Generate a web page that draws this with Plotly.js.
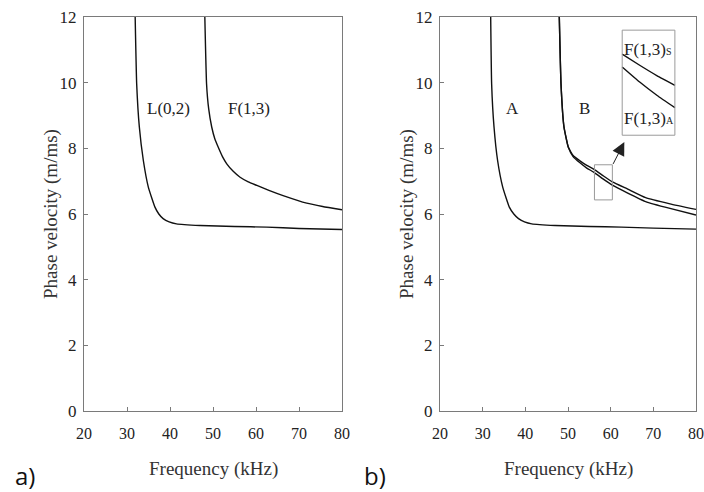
<!DOCTYPE html>
<html>
<head>
<meta charset="utf-8">
<script src="https://cdn.plot.ly/plotly-3.0.1.min.js"></script>
<style>html,body{margin:0;padding:0;background:#fff;}#chart{width:704px;height:492px;}</style>
</head>
<body>
<div id="chart"></div>
<script>
// ---- data ----
// panel a)
var freqL02 = [31.9, 32.25, 32.87, 33.8, 34.96, 36.5, 37.4, 38.4, 39.8, 41.5, 47, 55, 62.5, 70, 80];
var velL02  = [12, 9.97, 8.65, 7.63, 6.82, 6.21, 6.0, 5.86, 5.76, 5.70, 5.65, 5.62, 5.6, 5.56, 5.53];
var freqF13 = [48.1, 48.5, 49.0, 49.7, 50.4, 51.2, 52.2, 53.2, 54.7, 56.3, 58.2, 60.2, 63.0, 66.3, 71.8, 75.5, 80];
var velF13  = [12, 9.97, 9.2, 8.65, 8.3, 8.04, 7.75, 7.53, 7.3, 7.12, 6.98, 6.87, 6.72, 6.56, 6.33, 6.23, 6.13];
// panel b)
var freqA = [31.88, 32.1, 32.66, 33.5, 34.7, 36.25, 37.3, 38.4, 39.8, 41.5, 47, 55, 62.5, 70, 80];
var velA  = [12, 9.97, 8.65, 7.63, 6.82, 6.21, 6.0, 5.86, 5.76, 5.70, 5.65, 5.62, 5.6, 5.57, 5.54];
var freqBS = [47.96, 48.36, 49.06, 50.07, 51.2, 52.8, 54.4, 56.1, 58.2, 60.4, 64.0, 68.2, 73.9, 80];
var velBS  = [12, 9.97, 8.65, 8.04, 7.78, 7.62, 7.48, 7.36, 7.17, 6.98, 6.76, 6.50, 6.31, 6.14];
var freqBA = [47.96, 48.36, 49.06, 50.07, 51.2, 52.8, 54.4, 56.1, 58.2, 60.4, 64.0, 68.2, 73.9, 80];
var velBA  = [12, 9.97, 8.65, 8.03, 7.75, 7.56, 7.40, 7.27, 7.07, 6.88, 6.64, 6.38, 6.17, 5.97];
// magnified inset curves (drawn in panel b coordinates)
var insetFreq = [62.7, 66.8, 70.9, 75.05];
var insetS    = [10.87, 10.53, 10.21, 9.92];
var insetA    = [10.48, 10.02, 9.61, 9.24];
// zoom box and inset box
var zoomBoxF = [56.2, 60.4], zoomBoxV = [6.43, 7.50];
var insetBoxF = [62.7, 75.05], insetBoxV = [8.4, 11.6];
// ticks and titles
var xTicks = [20, 30, 40, 50, 60, 70, 80];
var yTicks = [0, 2, 4, 6, 8, 10, 12];
var xTitle = 'Frequency (kHz)';
var yTitle = 'Phase velocity (m/ms)';

var lineStyle = {color: '#111', width: 1.4, shape: 'spline', smoothing: 0.4};
function tr(x, y, xa, ya) {
  return {x: x, y: y, xaxis: xa, yaxis: ya, mode: 'lines', line: lineStyle, hoverinfo: 'skip', showlegend: false};
}
var traces = [
  tr(freqL02, velL02, 'x', 'y'),
  tr(freqF13, velF13, 'x', 'y'),
  tr(freqA, velA, 'x2', 'y2'),
  tr(freqBS, velBS, 'x2', 'y2'),
  tr(freqBA, velBA, 'x2', 'y2'),
  tr(insetFreq, insetS, 'x2', 'y2'),
  tr(insetFreq, insetA, 'x2', 'y2')
];

var serif = 'Liberation Serif';
function axCommon(size) {
  return {
    showline: true, mirror: true, linecolor: '#7a7a7a', linewidth: 1,
    ticks: 'inside', ticklen: 4, tickcolor: '#7a7a7a', tickwidth: 1,
    showgrid: false, zeroline: false, fixedrange: true,
    tickfont: {family: serif, size: size, color: '#222'}
  };
}
function xa(domain, anchor) {
  return Object.assign(axCommon(16), {
    domain: domain, range: [20, 80], tickmode: 'array', tickvals: xTicks, anchor: anchor,
    ticklabelstandoff: 8
  });
}
function ya(anchor) {
  return Object.assign(axCommon(17), {
    domain: [0.1646, 0.9654], range: [0, 12], tickmode: 'array', tickvals: yTicks, anchor: anchor,
    ticklabelstandoff: 3
  });
}

var titleFont = {family: serif, size: 19, color: '#333'};
var lblFont = {family: serif, size: 17, color: '#222'};
var panelFont = {family: 'Open Sans', size: 24, color: '#111'};
function paperNote(px, py, text, font, angle) {
  return {xref: 'paper', yref: 'paper', x: px / 704, y: (492 - py) / 492, xanchor: 'center', yanchor: 'middle',
          text: text, textangle: angle || 0, showarrow: false, font: font};
}
var annotations = [
  paperNote(213, 469, xTitle, titleFont),
  paperNote(568, 469, xTitle, titleFont),
  paperNote(51, 214, yTitle, titleFont, -90),
  paperNote(407, 214, yTitle, titleFont, -90),
  paperNote(25, 475, 'a)', panelFont),
  paperNote(375, 475, 'b)', panelFont),
  {xref: 'x', yref: 'y', x: 39.6, y: 9.2, text: 'L(0,2)', showarrow: false, font: lblFont},
  {xref: 'x', yref: 'y', x: 58.3, y: 9.2, text: 'F(1,3)', showarrow: false, font: lblFont},
  {xref: 'x2', yref: 'y2', x: 37.1, y: 9.2, text: 'A', showarrow: false, font: lblFont},
  {xref: 'x2', yref: 'y2', x: 53.8, y: 9.2, text: 'B', showarrow: false, font: lblFont},
  {xref: 'x2', yref: 'y2', x: 62.75, y: 11.0, xanchor: 'left', text: 'F(1,3)<span style="font-size:10px">S</span>', showarrow: false, font: lblFont},
  {xref: 'x2', yref: 'y2', x: 62.75, y: 8.9, xanchor: 'left', text: 'F(1,3)<span style="font-size:10px">A</span>', showarrow: false, font: lblFont},
  {xref: 'x2', yref: 'y2', axref: 'x2', ayref: 'y2', x: 63.2, y: 8.19, ax: 60.4, ay: 7.48, text: '',
   showarrow: true, arrowhead: 2, arrowsize: 2.6, arrowwidth: 1, arrowcolor: '#222'}
];
var shapes = [
  {type: 'rect', xref: 'x2', yref: 'y2', x0: zoomBoxF[0], x1: zoomBoxF[1], y0: zoomBoxV[0], y1: zoomBoxV[1],
   line: {color: '#9a9a9a', width: 1}},
  {type: 'rect', xref: 'x2', yref: 'y2', x0: insetBoxF[0], x1: insetBoxF[1], y0: insetBoxV[0], y1: insetBoxV[1],
   line: {color: '#9a9a9a', width: 1}}
];

var layout = {
  width: 704, height: 492,
  margin: {l: 0, r: 0, t: 0, b: 0},
  paper_bgcolor: '#fff', plot_bgcolor: '#fff',
  font: {family: serif, size: 16, color: '#333'},
  showlegend: false,
  xaxis: xa([84 / 704, 342 / 704], 'y'),
  yaxis: ya('x'),
  xaxis2: xa([440 / 704, 696 / 704], 'y2'),
  yaxis2: ya('x2'),
  annotations: annotations,
  shapes: shapes
};
Plotly.newPlot('chart', traces, layout, {displayModeBar: false, staticPlot: true});
</script>
</body>
</html>
